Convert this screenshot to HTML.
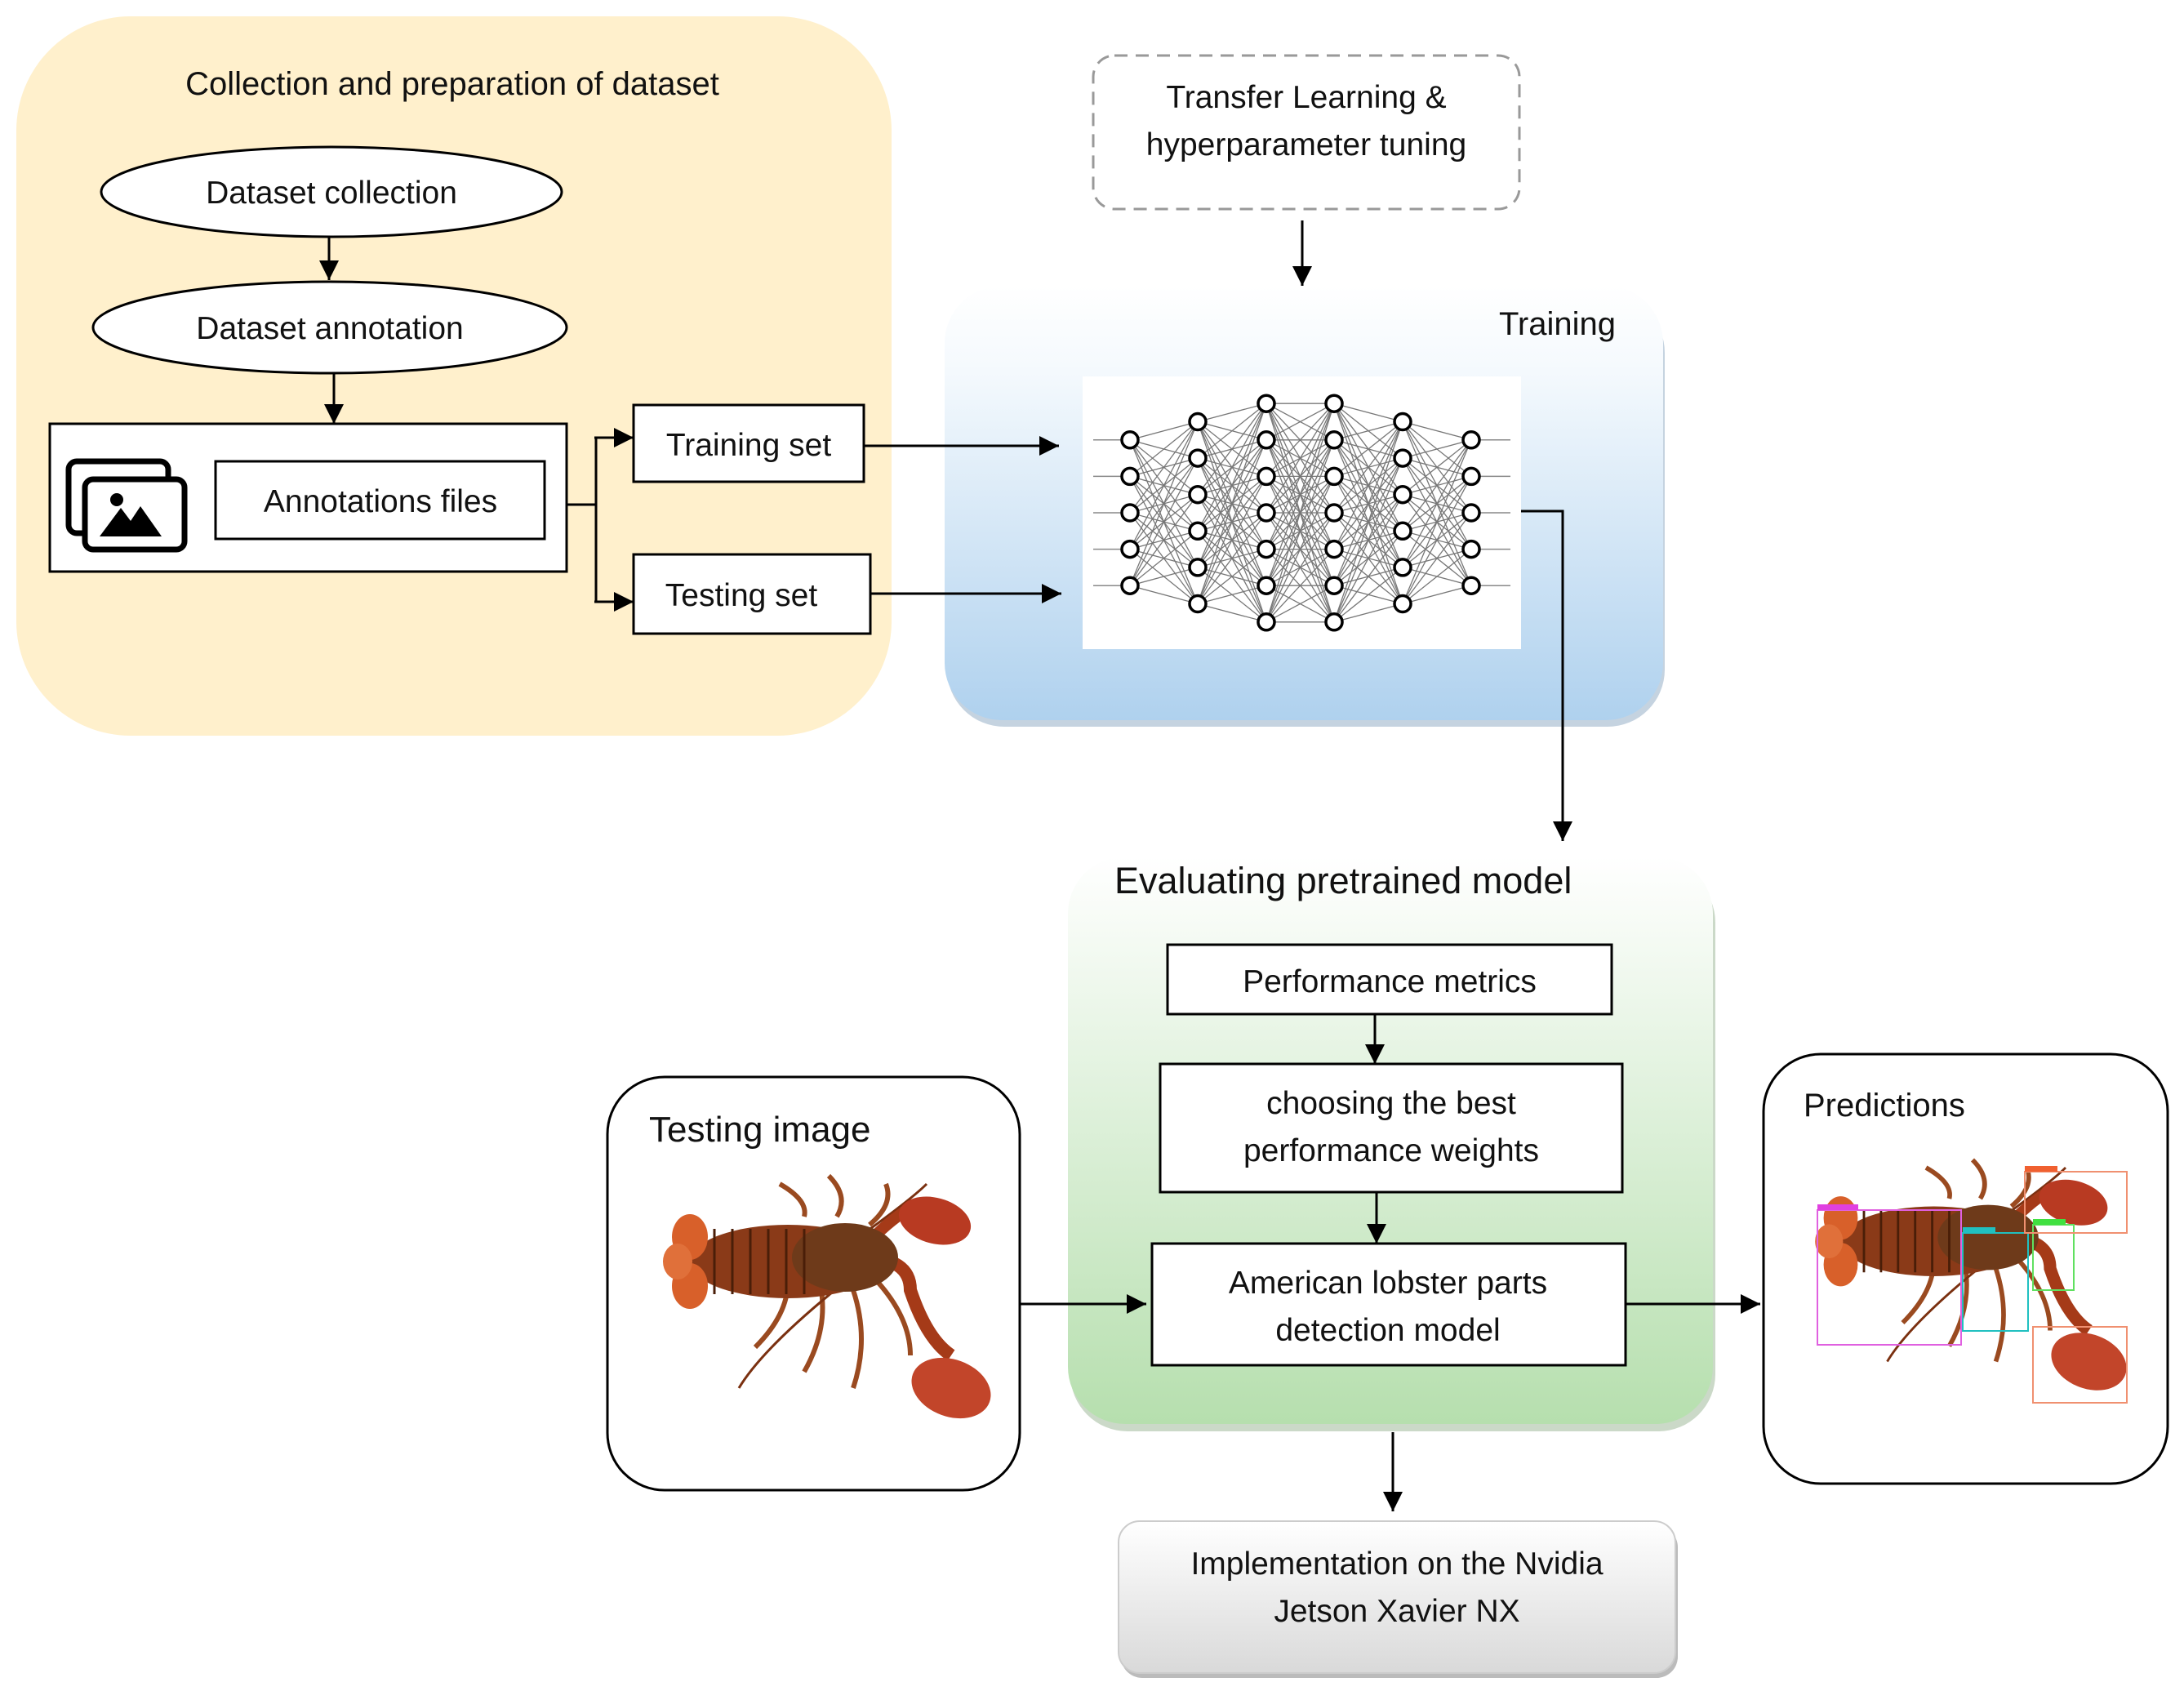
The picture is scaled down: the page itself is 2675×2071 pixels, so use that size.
<!DOCTYPE html>
<html><head><meta charset="utf-8"><style>
html,body{margin:0;padding:0;background:#fff;}
svg{display:block;}
text{font-family:"Liberation Sans",sans-serif;fill:#111;}
</style></head><body>
<svg id="s" width="2675" height="2071" viewBox="0 0 2675 2071" xmlns="http://www.w3.org/2000/svg">
<defs>
<marker id="a" viewBox="0 0 10 10" refX="10" refY="5" markerWidth="24" markerHeight="24" orient="auto" markerUnits="userSpaceOnUse"><path d="M0,0 L10,5 L0,10 z" fill="#000"/></marker>
<linearGradient id="gb" x1="0" y1="0" x2="0" y2="1"><stop offset="0" stop-color="#ffffff"/><stop offset="0.2" stop-color="#f4f9fd"/><stop offset="1" stop-color="#afd1ee"/></linearGradient>
<linearGradient id="gg" x1="0" y1="0" x2="0" y2="1"><stop offset="0" stop-color="#ffffff"/><stop offset="1" stop-color="#b6dfae"/></linearGradient>
<linearGradient id="gy" x1="0" y1="0" x2="0" y2="1"><stop offset="0" stop-color="#ffffff"/><stop offset="1" stop-color="#d9d9d9"/></linearGradient>
</defs>

<rect x="20" y="20" width="1072" height="881" rx="140" fill="#fff0cc"/>
<text x="554" y="116" font-size="40" text-anchor="middle">Collection and preparation of dataset</text>
<ellipse cx="406" cy="235" rx="282" ry="55" fill="#fff" stroke="#000" stroke-width="3"/>
<text x="406" y="249" font-size="39" text-anchor="middle">Dataset collection</text>
<line x1="403" y1="290" x2="403" y2="343" stroke="#000" stroke-width="3" marker-end="url(#a)"/>
<ellipse cx="404" cy="401" rx="290" ry="56" fill="#fff" stroke="#000" stroke-width="3"/>
<text x="404" y="415" font-size="39" text-anchor="middle">Dataset annotation</text>
<line x1="409" y1="457" x2="409" y2="519" stroke="#000" stroke-width="3" marker-end="url(#a)"/>
<rect x="61" y="519" width="633" height="181" fill="#fff" stroke="#000" stroke-width="3"/>
<rect x="264" y="565" width="403" height="95" fill="#fff" stroke="#000" stroke-width="3"/>
<text x="466" y="627" font-size="39" text-anchor="middle">Annotations files</text>
<rect x="84" y="565" width="122" height="88" rx="10" fill="#fff" stroke="#000" stroke-width="7"/>
<rect x="104" y="587" width="122" height="86" rx="10" fill="#fff" stroke="#000" stroke-width="7"/>
<circle cx="143" cy="612" r="8" fill="#000"/>
<path d="M122,657 L148,622 L160,638 L172,620 L198,657 z" fill="#000"/>
<polyline points="694,618 730,618" fill="none" stroke="#000" stroke-width="3"/>
<polyline points="730,536 730,737" fill="none" stroke="#000" stroke-width="3"/>
<line x1="728" y1="536" x2="776" y2="536" stroke="#000" stroke-width="3" marker-end="url(#a)"/>
<line x1="728" y1="737" x2="776" y2="737" stroke="#000" stroke-width="3" marker-end="url(#a)"/>
<rect x="776" y="496" width="282" height="94" fill="#fff" stroke="#000" stroke-width="3"/>
<text x="917" y="558" font-size="39" text-anchor="middle">Training set</text>
<rect x="776" y="679" width="290" height="97" fill="#fff" stroke="#000" stroke-width="3"/>
<text x="908" y="742" font-size="39" text-anchor="middle">Testing set</text>

<rect x="1339" y="68" width="522" height="188" rx="26" fill="#fff" stroke="#999" stroke-width="3" stroke-dasharray="16,10"/>
<text x="1600" y="132" font-size="39" text-anchor="middle">Transfer Learning &amp;</text>
<text x="1600" y="190" font-size="39" text-anchor="middle">hyperparameter tuning</text>
<line x1="1595" y1="270" x2="1595" y2="350" stroke="#000" stroke-width="3" marker-end="url(#a)"/>

<rect x="1160" y="362" width="879" height="528" rx="70" fill="#9fb6cc" opacity="0.6"/>
<rect x="1157" y="350" width="880" height="532" rx="70" fill="url(#gb)"/>
<text x="1979" y="410" font-size="40" text-anchor="end">Training</text>
<rect x="1326" y="461" width="537" height="334" fill="#fff"/>
<g id="nn"></g>
<line x1="1058" y1="546" x2="1297" y2="546" stroke="#000" stroke-width="3" marker-end="url(#a)"/>
<line x1="1066" y1="727" x2="1300" y2="727" stroke="#000" stroke-width="3" marker-end="url(#a)"/>
<polyline points="1863,626 1914,626 1914,1030" fill="none" stroke="#000" stroke-width="3" marker-end="url(#a)"/>

<rect x="1311" y="1060" width="790" height="693" rx="70" fill="#a8bfa3" opacity="0.6"/>
<rect x="1308" y="1049" width="790" height="695" rx="70" fill="url(#gg)"/>
<text x="1365" y="1094" font-size="45">Evaluating pretrained model</text>
<rect x="1430" y="1157" width="544" height="85" fill="#fff" stroke="#000" stroke-width="3"/>
<text x="1702" y="1215" font-size="39" text-anchor="middle">Performance metrics</text>
<line x1="1684" y1="1242" x2="1684" y2="1303" stroke="#000" stroke-width="3" marker-end="url(#a)"/>
<rect x="1421" y="1303" width="566" height="157" fill="#fff" stroke="#000" stroke-width="3"/>
<text x="1704" y="1364" font-size="39" text-anchor="middle">choosing the best</text>
<text x="1704" y="1422" font-size="39" text-anchor="middle">performance weights</text>
<line x1="1686" y1="1460" x2="1686" y2="1523" stroke="#000" stroke-width="3" marker-end="url(#a)"/>
<rect x="1411" y="1523" width="580" height="149" fill="#fff" stroke="#000" stroke-width="3"/>
<text x="1700" y="1584" font-size="39" text-anchor="middle">American lobster parts</text>
<text x="1700" y="1642" font-size="39" text-anchor="middle">detection model</text>

<rect x="744" y="1319" width="505" height="506" rx="70" fill="#fff" stroke="#000" stroke-width="3"/>
<text x="795" y="1398" font-size="44">Testing image</text>
<g id="lob1" transform="translate(815,1450)"></g>
<line x1="1249" y1="1597" x2="1404" y2="1597" stroke="#000" stroke-width="3" marker-end="url(#a)"/>
<line x1="1991" y1="1597" x2="2156" y2="1597" stroke="#000" stroke-width="3" marker-end="url(#a)"/>

<rect x="2160" y="1291" width="495" height="526" rx="70" fill="#fff" stroke="#000" stroke-width="3"/>
<text x="2209" y="1367" font-size="40">Predictions</text>
<g id="lob2" transform="translate(2226,1430) scale(0.95)"></g>
<rect x="2226" y="1482" width="176" height="165" fill="none" stroke="#e060e0" stroke-width="2"/>
<rect x="2226" y="1475" width="50" height="7" fill="#e040e0"/>
<rect x="2404" y="1510" width="80" height="120" fill="none" stroke="#20c0c0" stroke-width="2"/>
<rect x="2404" y="1503" width="40" height="7" fill="#20c0c0"/>
<rect x="2490" y="1500" width="50" height="80" fill="none" stroke="#60e060" stroke-width="2"/>
<rect x="2490" y="1493" width="40" height="7" fill="#40e040"/>
<rect x="2480" y="1435" width="125" height="75" fill="none" stroke="#f09070" stroke-width="2"/>
<rect x="2480" y="1428" width="40" height="7" fill="#f06030"/>
<rect x="2490" y="1625" width="115" height="93" fill="none" stroke="#f09070" stroke-width="2"/>

<line x1="1706" y1="1754" x2="1706" y2="1851" stroke="#000" stroke-width="3" marker-end="url(#a)"/>
<rect x="1373" y="1869" width="682" height="186" rx="26" fill="#bbb"/>
<rect x="1370" y="1863" width="682" height="186" rx="26" fill="url(#gy)" stroke="#ccc" stroke-width="2"/>
<text x="1711" y="1928" font-size="39" text-anchor="middle">Implementation on the Nvidia</text>
<text x="1711" y="1986" font-size="39" text-anchor="middle">Jetson Xavier NX</text>
</svg>
<script>
var NS="http://www.w3.org/2000/svg";
function el(p,t,a){var e=document.createElementNS(NS,t);for(var k in a)e.setAttribute(k,a[k]);p.appendChild(e);return e;}
var g=document.getElementById("nn");
var xs=[1384,1467,1551,1634,1718,1802],ns=[5,6,7,7,6,5],cy=628,sp=44.6;
var L=[];for(var i=0;i<6;i++){var a=[];for(var j=0;j<ns[i];j++)a.push(cy+(j-(ns[i]-1)/2)*sp);L.push(a);}
for(var i=0;i<5;i++)for(var a=0;a<L[i].length;a++)for(var b=0;b<L[i+1].length;b++)
el(g,"line",{x1:xs[i],y1:L[i][a],x2:xs[i+1],y2:L[i+1][b],stroke:"#777","stroke-width":1.3});
L[0].forEach(function(y){el(g,"line",{x1:1339,y1:y,x2:xs[0],y2:y,stroke:"#888","stroke-width":1.5});});
L[5].forEach(function(y){el(g,"line",{x1:xs[5],y1:y,x2:1850,y2:y,stroke:"#888","stroke-width":1.5});});
for(var i=0;i<6;i++)L[i].forEach(function(y){el(g,"circle",{cx:xs[i],cy:y,r:10,fill:"#fff",stroke:"#000","stroke-width":3.5});});
function lob(id){var p=document.getElementById(id);
var legs="#9a4a20";
[[150,120,110,200],[190,125,170,230],[230,130,230,250],[260,120,300,210],[170,40,140,0],[210,40,200,-10],[250,50,270,0]].forEach(function(l){el(p,"path",{d:"M"+l[0]+","+l[1]+" Q"+((l[0]+l[2])/2+20)+","+((l[1]+l[3])/2)+" "+l[2]+","+l[3],stroke:legs,"stroke-width":6,fill:"none"});});
el(p,"path",{d:"M230,70 Q300,20 320,0",stroke:"#7a3010","stroke-width":3,fill:"none"});
el(p,"path",{d:"M220,120 Q120,200 90,250",stroke:"#7a3010","stroke-width":3,fill:"none"});
el(p,"path",{d:"M240,90 Q300,90 300,130 Q320,190 350,210",stroke:"#a53a18","stroke-width":16,fill:"none"});
el(p,"ellipse",{cx:350,cy:250,rx:50,ry:35,fill:"#c2452a",transform:"rotate(20 350 250)"});
el(p,"path",{d:"M250,70 Q280,40 300,30",stroke:"#a53a18","stroke-width":14,fill:"none"});
el(p,"ellipse",{cx:330,cy:45,rx:45,ry:28,fill:"#b83a22",transform:"rotate(15 330 45)"});
el(p,"ellipse",{cx:150,cy:95,rx:120,ry:45,fill:"#8a3a18"});
el(p,"ellipse",{cx:220,cy:90,rx:65,ry:42,fill:"#6e3a1a"});
for(var k=0;k<6;k++)el(p,"line",{x1:60+k*22,y1:55,x2:60+k*22,y2:135,stroke:"#4a1e08","stroke-width":3});
el(p,"ellipse",{cx:30,cy:65,rx:22,ry:28,fill:"#d8602a"});
el(p,"ellipse",{cx:30,cy:125,rx:22,ry:28,fill:"#d8602a"});
el(p,"ellipse",{cx:15,cy:95,rx:18,ry:22,fill:"#e0703a"});}
lob("lob1");lob("lob2");
</script>
</body></html>
